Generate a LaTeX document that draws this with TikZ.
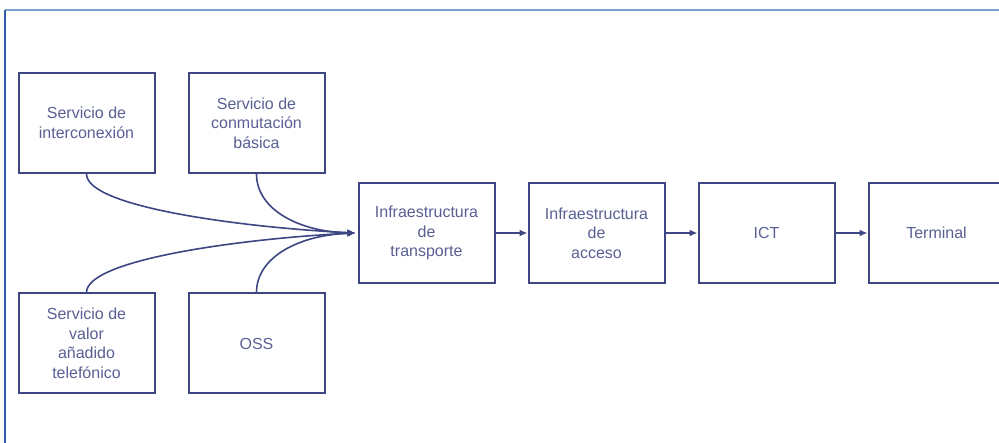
\documentclass[tikz,border=0pt]{standalone}
\usepackage{fontspec}
\setmainfont{Liberation Sans}
\usetikzlibrary{arrows.meta}
\definecolor{boxline}{HTML}{3D4683}
\definecolor{boxtext}{HTML}{5A6094}
\definecolor{frameleft}{HTML}{2F5DAA}
\definecolor{frametop}{HTML}{7FA3CF}
\begin{document}
\begin{tikzpicture}[x=1pt,y=-1pt,
  blk/.style={draw=boxline, line width=2pt, fill=white, minimum width=136pt, minimum height=100pt,
    inner sep=0pt, align=center, text=boxtext, font=\fontsize{16}{19.5}\selectfont},
  link/.style={draw=boxline, line width=1.8pt, -{Latex[length=8pt,width=7pt]}},
  flow/.style={draw=boxline, line width=1.6pt, -{Latex[length=8pt,width=7pt]}}]
\useasboundingbox (0,0) rectangle (999,443);
% frame
\draw[frametop, line width=2pt] (5,10) -- (1005,10);
\draw[frameleft, line width=2pt] (5,10) -- (5,450);
% service boxes
\node[blk] (inter) at (86.5,123) {Servicio de\\interconexión};
\node[blk] (conm) at (256.5,123) {Servicio de\\conmutación\\básica};
\node[blk] (valor) at (86.5,343.5) {Servicio de\\valor\\añadido\\telefónico};
\node[blk] (oss) at (256.5,343.5) {OSS};
% chain
\node[blk] (transp) at (426.5,233) {Infraestructura\\de\\transporte};
\node[blk] (acceso) at (596.5,233) {Infraestructura\\de\\acceso};
\node[blk] (ict) at (766.5,233) {ICT};
\node[blk] (term) at (936.5,233) {Terminal};
\coordinate (hub) at ([xshift=-2pt]transp.west);
% converging curves
\draw[flow] (inter.south) .. controls ([yshift=-34pt]inter.south) and (250,228) .. (hub);
\draw[flow] (conm.south) .. controls ([yshift=-36pt]conm.south) and (300,232) .. (hub);
\draw[flow] (valor.north) .. controls ([yshift=34pt]valor.north) and (250,238) .. (hub);
\draw[flow] (oss.north) .. controls ([yshift=36pt]oss.north) and (300,235) .. (hub);
% chain arrows
\draw[link] (transp.east) -- (acceso.west);
\draw[link] (acceso.east) -- (ict.west);
\draw[link] (ict.east) -- (term.west);
\end{tikzpicture}
\end{document}
